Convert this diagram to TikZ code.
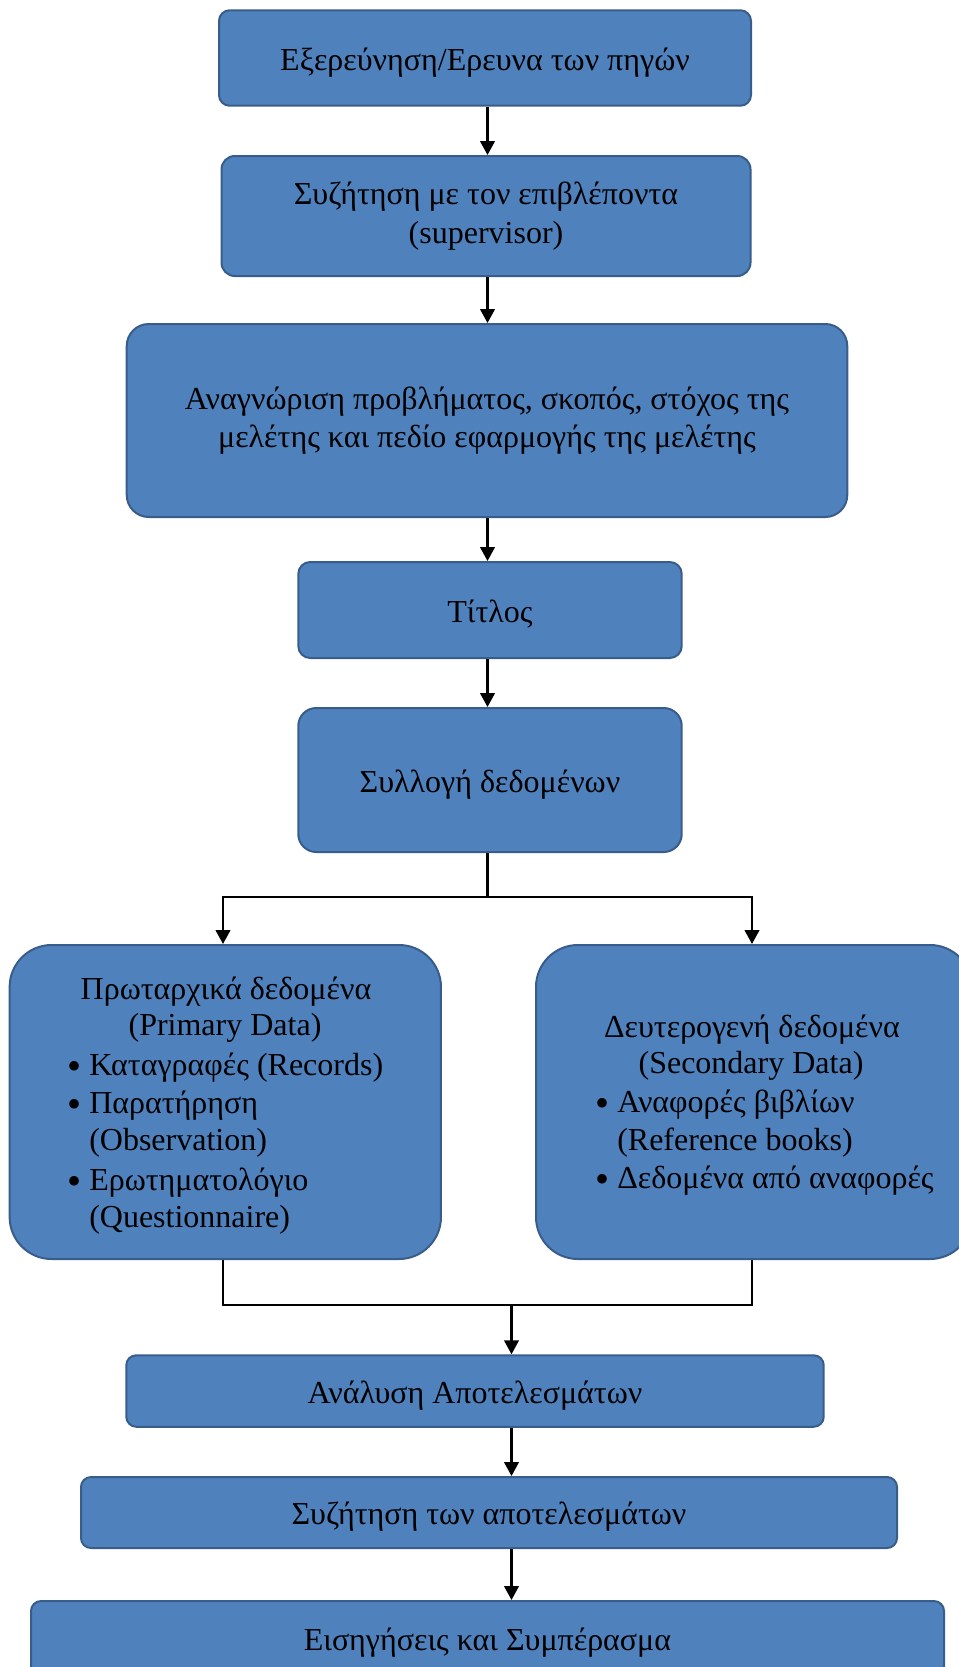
\documentclass[tikz,border=0pt]{standalone}
\usepackage{fontspec}
\setmainfont{Liberation Serif}
\usetikzlibrary{arrows.meta}
\definecolor{boxfill}{RGB}{79,129,189}
\definecolor{boxline}{RGB}{56,93,138}
\newcommand\diagfs{\fontsize{24pt}{29pt}\selectfont}
\newcommand\bigbul{\makebox[16.5pt][l]{\raisebox{-3.5pt}{\fontsize{30pt}{30pt}\selectfont •}}}
\begin{document}
\begin{tikzpicture}[x=0.75pt,y=-0.75pt,
  box/.style={draw=boxline, fill=boxfill, line width=1.5pt, inner sep=0pt, font=\diagfs, align=center},
  oneline/.style={text height=23.5pt, text depth=5.3pt},
  txt/.style={inner sep=0pt, font=\diagfs, anchor=base},
  txtl/.style={inner sep=0pt, font=\diagfs, anchor=base west},
  conn/.style={line width=1.6pt, black},
  arr/.style={conn, -{Triangle[width=11pt,length=10.5pt]}}]
\useasboundingbox (0,0) rectangle (959,1667);
\clip (0,0) rectangle (959,1667);

% boxes
\node[box, oneline, rounded corners=8pt, minimum width=399pt, minimum height=71.6pt] (b1) at (485,58)
  {Εξερεύνηση/Ερευνα των πηγών};
\node[box, rounded corners=10pt, minimum width=396.75pt, minimum height=90pt] (b2) at (486,216)
  {Συζήτηση με τον επιβλέποντα\\(supervisor)};
\node[box, rounded corners=16.5pt, minimum width=540.4pt, minimum height=144.75pt] (b3) at (487,420.5)
  {Αναγνώριση προβλήματος, σκοπός, στόχος της\\μελέτης και πεδίο εφαρμογής της μελέτης};
\node[box, oneline, rounded corners=9pt, minimum width=287.6pt, minimum height=72pt] (b4) at (490,610)
  {Τίτλος};
\node[box, oneline, rounded corners=13.5pt, minimum width=287.6pt, minimum height=108pt] (b5) at (490,780)
  {Συλλογή δεδομένων};
\node[box, rounded corners=31.5pt, minimum width=323.5pt, minimum height=235.5pt] (bl) at (225.3,1102) {};
\node[box, rounded corners=31.5pt, minimum width=327pt, minimum height=235.5pt] (br) at (754,1102) {};
\node[box, oneline, rounded corners=7.5pt, minimum width=523.1pt, minimum height=53.6pt] (b6) at (475,1391)
  {Ανάλυση Αποτελεσμάτων};
\node[box, oneline, rounded corners=7.5pt, minimum width=612pt, minimum height=53.25pt] (b7) at (489,1512.5)
  {Συζήτηση των αποτελεσμάτων};
\node[box, oneline, rounded corners=7.5pt, minimum width=684.75pt, minimum height=56.25pt] (b8) at (487.5,1638.5)
  {Εισηγήσεις και Συμπέρασμα};

% left box text
\node[txt] (p1) at (226,999) {Πρωταρχικά δεδομένα};
\node[txt] (p2) at (225,1035) {(Primary Data)};
\node[txtl] (pt1) at (67,1075) {\bigbul Καταγραφές (Records)};
\node[txtl] (pt2) at (67,1113) {\bigbul Παρατήρηση};
\node[txtl] (pt3) at (89,1150) {(Observation)};
\node[txtl] (pt4) at (67,1190) {\bigbul Ερωτηματολόγιο};
\node[txtl] (pt5) at (89,1227) {(Questionnaire)};

% right box text
\node[txt] (s1) at (752,1037) {Δευτερογενή δεδομένα};
\node[txt] (s2) at (751,1073) {(Secondary Data)};
\node[txtl] (st1) at (595,1112) {\bigbul Αναφορές βιβλίων};
\node[txtl] (st2) at (617,1150) {(Reference books)};
\node[txtl] (st3) at (595,1188) {\bigbul Δεδομένα από αναφορές};

% connectors
\coordinate (mx) at (487.5,0);
\coordinate (la) at (223,0);
\coordinate (ra) at (752,0);
\coordinate (split) at (487.5,897);
\coordinate (merge) at (511.5,1305);

\draw[arr] (b1.south -| mx) -- (b2.north -| mx);
\draw[arr] (b2.south -| mx) -- (b3.north -| mx);
\draw[arr] (b3.south -| mx) -- (b4.north -| mx);
\draw[arr] (b4.south -| mx) -- (b5.north -| mx);
\draw[conn] (b5.south -| mx) -- (split);
\draw[arr] (split) -| (bl.north -| la);
\draw[arr] (split) -| (br.north -| ra);
\draw[conn] (bl.south -| la) |- (ra |- merge) -- (br.south -| ra);
\draw[arr] (merge) -- (b6.north -| merge);
\draw[arr] (b6.south -| merge) -- (b7.north -| merge);
\draw[arr] (b7.south -| merge) -- (b8.north -| merge);
\end{tikzpicture}
\end{document}
